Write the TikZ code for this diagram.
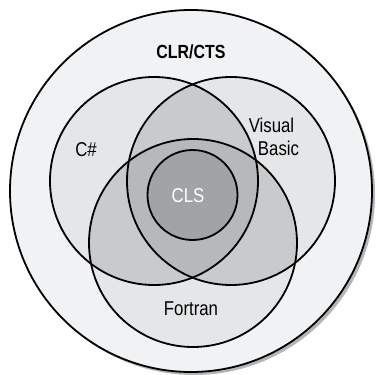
\documentclass[tikz,border=0pt]{standalone}
\usepackage{fontspec}
\setmainfont{Liberation Sans}[FakeStretch=0.84]
\usepackage{xcolor}
\usepackage{tikz}
\usetikzlibrary{positioning, calc}

\definecolor{ringfill}{HTML}{F1F2F4}
\definecolor{langfill}{HTML}{E5E6E8}
\definecolor{pairfill}{HTML}{C9CACC}
\definecolor{trifill}{HTML}{B7B8BA}
\definecolor{clsfill}{HTML}{A2A3A5}
\definecolor{shadowfill}{HTML}{B4B5B7}

\begin{document}
\begin{tikzpicture}[x=1pt, y=-1pt, line width=1.8pt,
    lbl/.style={font=\fontsize{20}{21}\selectfont, inner sep=0pt}]
    \useasboundingbox (0,0) rectangle (376,375);
    % Centres
    \coordinate (clr) at (191,191);
    \coordinate (cs) at (154,181);
    \coordinate (vb) at (231,181);
    \coordinate (ft) at (193,243);
    \coordinate (cls) at (192.5,195);
    \def\rLang{104pt}
    % Shadow and outer ring
    \fill[shadowfill] ($(clr)+(3,3)$) circle (181pt);
    \fill[ringfill] (clr) circle (181pt);
    % Language circles
    \foreach \c in {cs,vb,ft} {\fill[langfill] (\c) circle (\rLang);}
    % Pairwise overlaps
    \foreach \a/\b in {cs/vb, cs/ft, vb/ft} {
        \begin{scope}
            \clip (\a) circle (\rLang);
            \fill[pairfill] (\b) circle (\rLang);
        \end{scope}
    }
    % Common part of all three
    \begin{scope}
        \clip (cs) circle (\rLang);
        \clip (vb) circle (\rLang);
        \fill[trifill] (ft) circle (\rLang);
    \end{scope}
    \fill[clsfill] (cls) circle (45pt);
    % Outlines
    \draw (clr) circle (181pt);
    \foreach \c in {cs,vb,ft} {\draw (\c) circle (\rLang);}
    \draw (cls) circle (45pt);
    % Labels
    \node[lbl, font=\fontsize{19}{20}\selectfont\bfseries] (clrlbl) at (191,51.5) {CLR/CTS};
    \node[lbl] (cslbl) at (86,150) {C\#};
    \node[lbl] (vblbl) at (271.5,125) {Visual};
    \node[lbl, below=7pt of vblbl.south, xshift=7pt, anchor=north] (vblbl2) {Basic};
    \node[lbl] (ftlbl) at (191,308.5) {Fortran};
    \node[lbl, white] (clslbl) at (188,196) {CLS};
\end{tikzpicture}
\end{document}
